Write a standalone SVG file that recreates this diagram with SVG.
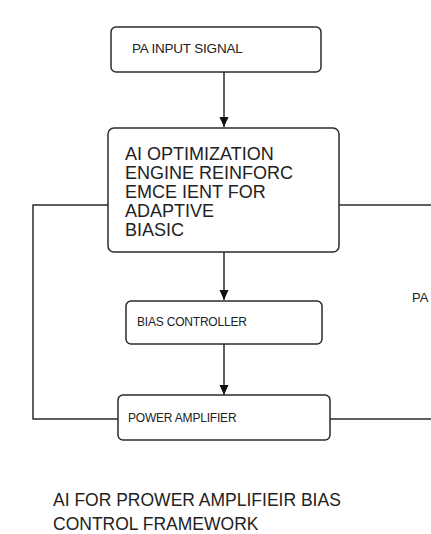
<svg xmlns="http://www.w3.org/2000/svg" width="431" height="534" viewBox="0 0 431 534">
<style>
.box{fill:#fff;stroke:#2b2b2b;stroke-width:1.5}
.ln{fill:none;stroke:#2b2b2b;stroke-width:1.5}
text{font-family:"Liberation Sans",Arial,sans-serif;fill:#222}
.s{font-size:12px;letter-spacing:-0.2px}
.b{font-size:18px}
.t{font-size:17.5px}
</style>
<defs>
<marker id="ah" viewBox="0 0 10 10" refX="10" refY="5" markerWidth="10" markerHeight="10" markerUnits="userSpaceOnUse" orient="auto"><path d="M0,0.5L10,5L0,9.5z" fill="#111"/></marker>
</defs>
<rect width="431" height="534" fill="#fff"/>
<g id="connectors">
<line class="ln" x1="224" y1="72" x2="224" y2="127" marker-end="url(#ah)"/>
<line class="ln" x1="224" y1="252" x2="224" y2="300" marker-end="url(#ah)"/>
<line class="ln" x1="224" y1="344" x2="224" y2="395" marker-end="url(#ah)"/>
<polyline class="ln" points="108,205 33,205 33,419 118,419"/>
<line class="ln" x1="339" y1="205" x2="431" y2="205"/>
<line class="ln" x1="330" y1="419" x2="431" y2="419"/>
</g>
<g id="input">
<rect class="box" x="111" y="27" width="210" height="45" rx="5"/>
<text class="s" x="132" y="53" style="font-size:13.5px">PA INPUT SIGNAL</text>
</g>
<g id="ai">
<rect class="box" x="108" y="128" width="231" height="124" rx="6"/>
<text class="b" x="125" y="160">AI OPTIMIZATION</text>
<text class="b" x="125" y="179">ENGINE REINFORC</text>
<text class="b" x="125" y="198">EMCE IENT FOR</text>
<text class="b" x="125" y="217">ADAPTIVE</text>
<text class="b" x="125" y="236">BIASIC</text>
</g>
<g id="bias">
<rect class="box" x="126" y="301" width="196" height="43" rx="5"/>
<text class="s" x="137" y="326">BIAS CONTROLLER</text>
</g>
<g id="pa">
<rect class="box" x="118" y="395" width="212" height="45" rx="5"/>
<text class="s" x="128" y="422">POWER AMPLIFIER</text>
</g>
<g id="palabel">
<text x="412" y="302" style="font-size:13px">PA</text>
</g>
<g id="title">
<text class="t" x="53" y="506">AI FOR PROWER AMPLIFIEIR BIAS</text>
<text class="t" x="53" y="530">CONTROL FRAMEWORK</text>
</g>
</svg>
